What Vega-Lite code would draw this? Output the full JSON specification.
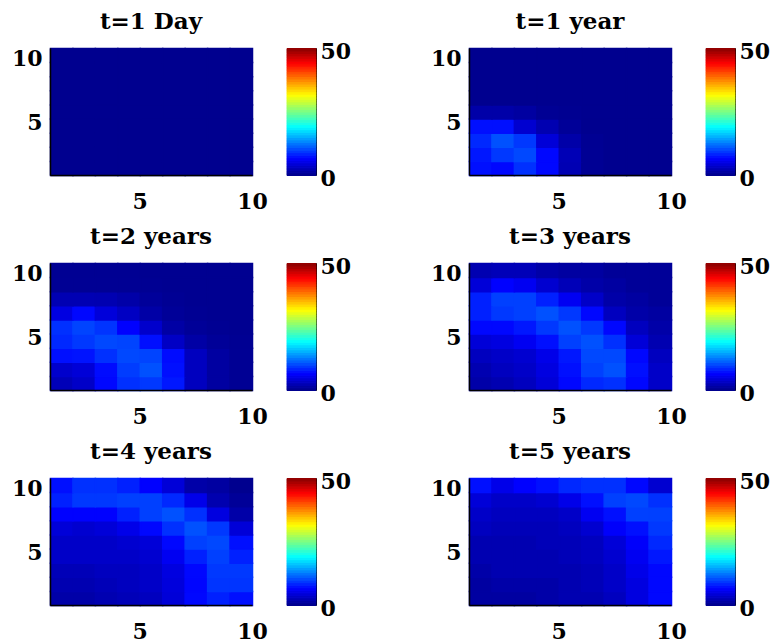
{
"$schema": "https://vega.github.io/schema/vega-lite/v6.json",
"background": "white",
"padding": {"left": 10, "top": 10, "right": 0, "bottom": 0},
"config": {
  "font": "DejaVu Serif",
  "view": {"stroke": "#c8c8e0"},
  "rect": {"binSpacing": 0},
  "title": {"font": "DejaVu Serif", "fontSize": 23, "fontWeight": "bold", "color": "black", "offset": 13},
  "axis": {"labelFont": "DejaVu Serif", "labelFontSize": 22, "labelFontWeight": "bold", "labelColor": "black", "domainColor": "black", "domainWidth": 1.5, "ticks": false, "tickSize": 0, "grid": false, "title": null, "labelFlush": false},
  "axisX": {"labelPadding": 16},
  "axisY": {"labelPadding": 8}
},
"datasets": {
"cb": [
{"c":0},{"c":1},{"c":2},{"c":3},{"c":4},{"c":5},{"c":6},{"c":7},{"c":8},{"c":9},
{"c":10},{"c":11},{"c":12},{"c":13},{"c":14},{"c":15},{"c":16},{"c":17},{"c":18},{"c":19},
{"c":20},{"c":21},{"c":22},{"c":23},{"c":24},{"c":25},{"c":26},{"c":27},{"c":28},{"c":29},
{"c":30},{"c":31},{"c":32},{"c":33},{"c":34},{"c":35},{"c":36},{"c":37},{"c":38},{"c":39},
{"c":40},{"c":41},{"c":42},{"c":43},{"c":44},{"c":45},{"c":46},{"c":47},{"c":48},{"c":49}
],
"p1": [
{"x":1,"y":1,"v":0},{"x":2,"y":1,"v":0},{"x":3,"y":1,"v":0},{"x":4,"y":1,"v":0},{"x":5,"y":1,"v":0},{"x":6,"y":1,"v":0},{"x":7,"y":1,"v":0},{"x":8,"y":1,"v":0},{"x":9,"y":1,"v":0},
{"x":1,"y":2,"v":0},{"x":2,"y":2,"v":0},{"x":3,"y":2,"v":0},{"x":4,"y":2,"v":0},{"x":5,"y":2,"v":0},{"x":6,"y":2,"v":0},{"x":7,"y":2,"v":0},{"x":8,"y":2,"v":0},{"x":9,"y":2,"v":0},
{"x":1,"y":3,"v":0},{"x":2,"y":3,"v":0},{"x":3,"y":3,"v":0},{"x":4,"y":3,"v":0},{"x":5,"y":3,"v":0},{"x":6,"y":3,"v":0},{"x":7,"y":3,"v":0},{"x":8,"y":3,"v":0},{"x":9,"y":3,"v":0},
{"x":1,"y":4,"v":0},{"x":2,"y":4,"v":0},{"x":3,"y":4,"v":0},{"x":4,"y":4,"v":0},{"x":5,"y":4,"v":0},{"x":6,"y":4,"v":0},{"x":7,"y":4,"v":0},{"x":8,"y":4,"v":0},{"x":9,"y":4,"v":0},
{"x":1,"y":5,"v":0},{"x":2,"y":5,"v":0},{"x":3,"y":5,"v":0},{"x":4,"y":5,"v":0},{"x":5,"y":5,"v":0},{"x":6,"y":5,"v":0},{"x":7,"y":5,"v":0},{"x":8,"y":5,"v":0},{"x":9,"y":5,"v":0},
{"x":1,"y":6,"v":0},{"x":2,"y":6,"v":0},{"x":3,"y":6,"v":0},{"x":4,"y":6,"v":0},{"x":5,"y":6,"v":0},{"x":6,"y":6,"v":0},{"x":7,"y":6,"v":0},{"x":8,"y":6,"v":0},{"x":9,"y":6,"v":0},
{"x":1,"y":7,"v":0},{"x":2,"y":7,"v":0},{"x":3,"y":7,"v":0},{"x":4,"y":7,"v":0},{"x":5,"y":7,"v":0},{"x":6,"y":7,"v":0},{"x":7,"y":7,"v":0},{"x":8,"y":7,"v":0},{"x":9,"y":7,"v":0},
{"x":1,"y":8,"v":0},{"x":2,"y":8,"v":0},{"x":3,"y":8,"v":0},{"x":4,"y":8,"v":0},{"x":5,"y":8,"v":0},{"x":6,"y":8,"v":0},{"x":7,"y":8,"v":0},{"x":8,"y":8,"v":0},{"x":9,"y":8,"v":0},
{"x":1,"y":9,"v":0},{"x":2,"y":9,"v":0},{"x":3,"y":9,"v":0},{"x":4,"y":9,"v":0},{"x":5,"y":9,"v":0},{"x":6,"y":9,"v":0},{"x":7,"y":9,"v":0},{"x":8,"y":9,"v":0},{"x":9,"y":9,"v":0}
],
"p2": [
{"x":1,"y":1,"v":7.0},{"x":2,"y":1,"v":6.6},{"x":3,"y":1,"v":8.6},{"x":4,"y":1,"v":6.6},{"x":5,"y":1,"v":2.0},{"x":6,"y":1,"v":0.3},{"x":7,"y":1,"v":0},{"x":8,"y":1,"v":0},{"x":9,"y":1,"v":0},
{"x":1,"y":2,"v":7.4},{"x":2,"y":2,"v":9.0},{"x":3,"y":2,"v":9.8},{"x":4,"y":2,"v":6.6},{"x":5,"y":2,"v":2.2},{"x":6,"y":2,"v":0.3},{"x":7,"y":2,"v":0},{"x":8,"y":2,"v":0},{"x":9,"y":2,"v":0},
{"x":1,"y":3,"v":8.2},{"x":2,"y":3,"v":10.2},{"x":3,"y":3,"v":9.0},{"x":4,"y":3,"v":4.1},{"x":5,"y":3,"v":1.4},{"x":6,"y":3,"v":0.2},{"x":7,"y":3,"v":0},{"x":8,"y":3,"v":0},{"x":9,"y":3,"v":0},
{"x":1,"y":4,"v":7.0},{"x":2,"y":4,"v":7.0},{"x":3,"y":4,"v":3.6},{"x":4,"y":4,"v":1.9},{"x":5,"y":4,"v":0.5},{"x":6,"y":4,"v":0},{"x":7,"y":4,"v":0},{"x":8,"y":4,"v":0},{"x":9,"y":4,"v":0},
{"x":1,"y":5,"v":1.4},{"x":2,"y":5,"v":1.4},{"x":3,"y":5,"v":1.0},{"x":4,"y":5,"v":0.3},{"x":5,"y":5,"v":0.1},{"x":6,"y":5,"v":0},{"x":7,"y":5,"v":0},{"x":8,"y":5,"v":0},{"x":9,"y":5,"v":0},
{"x":1,"y":6,"v":0},{"x":2,"y":6,"v":0},{"x":3,"y":6,"v":0},{"x":4,"y":6,"v":0},{"x":5,"y":6,"v":0},{"x":6,"y":6,"v":0},{"x":7,"y":6,"v":0},{"x":8,"y":6,"v":0},{"x":9,"y":6,"v":0},
{"x":1,"y":7,"v":0},{"x":2,"y":7,"v":0},{"x":3,"y":7,"v":0},{"x":4,"y":7,"v":0},{"x":5,"y":7,"v":0},{"x":6,"y":7,"v":0},{"x":7,"y":7,"v":0},{"x":8,"y":7,"v":0},{"x":9,"y":7,"v":0},
{"x":1,"y":8,"v":0},{"x":2,"y":8,"v":0},{"x":3,"y":8,"v":0},{"x":4,"y":8,"v":0},{"x":5,"y":8,"v":0},{"x":6,"y":8,"v":0},{"x":7,"y":8,"v":0},{"x":8,"y":8,"v":0},{"x":9,"y":8,"v":0},
{"x":1,"y":9,"v":0},{"x":2,"y":9,"v":0},{"x":3,"y":9,"v":0},{"x":4,"y":9,"v":0},{"x":5,"y":9,"v":0},{"x":6,"y":9,"v":0},{"x":7,"y":9,"v":0},{"x":8,"y":9,"v":0},{"x":9,"y":9,"v":0}
],
"p3": [
{"x":1,"y":1,"v":2.3},{"x":2,"y":1,"v":3.2},{"x":3,"y":1,"v":6.6},{"x":4,"y":1,"v":8.6},{"x":5,"y":1,"v":9.0},{"x":6,"y":1,"v":7.4},{"x":7,"y":1,"v":2.7},{"x":8,"y":1,"v":1.0},{"x":9,"y":1,"v":0.3},
{"x":1,"y":2,"v":3.4},{"x":2,"y":2,"v":4.0},{"x":3,"y":2,"v":6.8},{"x":4,"y":2,"v":9.2},{"x":5,"y":2,"v":10.2},{"x":6,"y":2,"v":7.0},{"x":7,"y":2,"v":2.7},{"x":8,"y":2,"v":1.0},{"x":9,"y":2,"v":0.3},
{"x":1,"y":3,"v":7.0},{"x":2,"y":3,"v":7.2},{"x":3,"y":3,"v":8.6},{"x":4,"y":3,"v":9.8},{"x":5,"y":3,"v":9.6},{"x":6,"y":3,"v":6.8},{"x":7,"y":3,"v":2.7},{"x":8,"y":3,"v":1.0},{"x":9,"y":3,"v":0.3},
{"x":1,"y":4,"v":8.2},{"x":2,"y":4,"v":9.0},{"x":3,"y":4,"v":9.8},{"x":4,"y":4,"v":9.6},{"x":5,"y":4,"v":7.0},{"x":6,"y":4,"v":3.0},{"x":7,"y":4,"v":1.2},{"x":8,"y":4,"v":0.5},{"x":9,"y":4,"v":0.2},
{"x":1,"y":5,"v":8.6},{"x":2,"y":5,"v":9.6},{"x":3,"y":5,"v":8.8},{"x":4,"y":5,"v":6.3},{"x":5,"y":5,"v":3.4},{"x":6,"y":5,"v":1.2},{"x":7,"y":5,"v":0.5},{"x":8,"y":5,"v":0.2},{"x":9,"y":5,"v":0.1},
{"x":1,"y":6,"v":4.6},{"x":2,"y":6,"v":6.6},{"x":3,"y":6,"v":4.2},{"x":4,"y":6,"v":2.9},{"x":5,"y":6,"v":1.3},{"x":6,"y":6,"v":0.5},{"x":7,"y":6,"v":0.2},{"x":8,"y":6,"v":0.1},{"x":9,"y":6,"v":0.1},
{"x":1,"y":7,"v":2.0},{"x":2,"y":7,"v":2.0},{"x":3,"y":7,"v":1.9},{"x":4,"y":7,"v":1.4},{"x":5,"y":7,"v":0.6},{"x":6,"y":7,"v":0.3},{"x":7,"y":7,"v":0.1},{"x":8,"y":7,"v":0.1},{"x":9,"y":7,"v":0.1},
{"x":1,"y":8,"v":0.3},{"x":2,"y":8,"v":0.3},{"x":3,"y":8,"v":0.3},{"x":4,"y":8,"v":0.3},{"x":5,"y":8,"v":0.2},{"x":6,"y":8,"v":0.1},{"x":7,"y":8,"v":0.1},{"x":8,"y":8,"v":0.1},{"x":9,"y":8,"v":0.1},
{"x":1,"y":9,"v":0.2},{"x":2,"y":9,"v":0.2},{"x":3,"y":9,"v":0.2},{"x":4,"y":9,"v":0.2},{"x":5,"y":9,"v":0.1},{"x":6,"y":9,"v":0.1},{"x":7,"y":9,"v":0.1},{"x":8,"y":9,"v":0.1},{"x":9,"y":9,"v":0.1}
],
"p4": [
{"x":1,"y":1,"v":1.4},{"x":2,"y":1,"v":1.9},{"x":3,"y":1,"v":2.7},{"x":4,"y":1,"v":4.1},{"x":5,"y":1,"v":6.6},{"x":6,"y":1,"v":8.2},{"x":7,"y":1,"v":8.6},{"x":8,"y":1,"v":6.6},{"x":9,"y":1,"v":3.2},
{"x":1,"y":2,"v":1.9},{"x":2,"y":2,"v":2.7},{"x":3,"y":2,"v":3.2},{"x":4,"y":2,"v":4.5},{"x":5,"y":2,"v":7.0},{"x":6,"y":2,"v":9.4},{"x":7,"y":2,"v":10.2},{"x":8,"y":2,"v":7.0},{"x":9,"y":2,"v":3.2},
{"x":1,"y":3,"v":2.7},{"x":2,"y":3,"v":3.2},{"x":3,"y":3,"v":3.6},{"x":4,"y":3,"v":5.0},{"x":5,"y":3,"v":7.4},{"x":6,"y":3,"v":9.8},{"x":7,"y":3,"v":9.8},{"x":8,"y":3,"v":6.6},{"x":9,"y":3,"v":2.7},
{"x":1,"y":4,"v":4.1},{"x":2,"y":4,"v":4.5},{"x":3,"y":4,"v":5.5},{"x":4,"y":4,"v":7.0},{"x":5,"y":4,"v":9.4},{"x":6,"y":4,"v":10.2},{"x":7,"y":4,"v":8.6},{"x":8,"y":4,"v":4.1},{"x":9,"y":4,"v":1.9},
{"x":1,"y":5,"v":6.6},{"x":2,"y":5,"v":6.6},{"x":3,"y":5,"v":7.4},{"x":4,"y":5,"v":9.0},{"x":5,"y":5,"v":10.2},{"x":6,"y":5,"v":9.0},{"x":7,"y":5,"v":6.6},{"x":8,"y":5,"v":2.7},{"x":9,"y":5,"v":1.4},
{"x":1,"y":6,"v":7.8},{"x":2,"y":6,"v":9.0},{"x":3,"y":6,"v":9.4},{"x":4,"y":6,"v":10.2},{"x":5,"y":6,"v":9.0},{"x":6,"y":6,"v":6.6},{"x":7,"y":6,"v":2.7},{"x":8,"y":6,"v":1.4},{"x":9,"y":6,"v":1.0},
{"x":1,"y":7,"v":7.8},{"x":2,"y":7,"v":9.4},{"x":3,"y":7,"v":9.4},{"x":4,"y":7,"v":7.8},{"x":5,"y":7,"v":5.5},{"x":6,"y":7,"v":3.2},{"x":7,"y":7,"v":1.4},{"x":8,"y":7,"v":1.0},{"x":9,"y":7,"v":0.5},
{"x":1,"y":8,"v":4.1},{"x":2,"y":8,"v":6.3},{"x":3,"y":8,"v":5.5},{"x":4,"y":8,"v":3.6},{"x":5,"y":8,"v":2.3},{"x":6,"y":8,"v":1.4},{"x":7,"y":8,"v":1.0},{"x":8,"y":8,"v":0.5},{"x":9,"y":8,"v":0.5},
{"x":1,"y":9,"v":1.9},{"x":2,"y":9,"v":2.3},{"x":3,"y":9,"v":2.3},{"x":4,"y":9,"v":1.4},{"x":5,"y":9,"v":1.0},{"x":6,"y":9,"v":1.0},{"x":7,"y":9,"v":0.5},{"x":8,"y":9,"v":0.5},{"x":9,"y":9,"v":0.5}
],
"p5": [
{"x":1,"y":1,"v":1.4},{"x":2,"y":1,"v":1.4},{"x":3,"y":1,"v":1.9},{"x":4,"y":1,"v":2.3},{"x":5,"y":1,"v":2.7},{"x":6,"y":1,"v":4.1},{"x":7,"y":1,"v":6.6},{"x":8,"y":1,"v":7.8},{"x":9,"y":1,"v":7.0},
{"x":1,"y":2,"v":1.9},{"x":2,"y":2,"v":1.9},{"x":3,"y":2,"v":2.3},{"x":4,"y":2,"v":2.7},{"x":5,"y":2,"v":3.2},{"x":6,"y":2,"v":4.3},{"x":7,"y":2,"v":6.5},{"x":8,"y":2,"v":8.8},{"x":9,"y":2,"v":8.8},
{"x":1,"y":3,"v":2.3},{"x":2,"y":3,"v":2.3},{"x":3,"y":3,"v":2.7},{"x":4,"y":3,"v":2.7},{"x":5,"y":3,"v":3.2},{"x":6,"y":3,"v":4.5},{"x":7,"y":3,"v":6.6},{"x":8,"y":3,"v":9.0},{"x":9,"y":3,"v":9.0},
{"x":1,"y":4,"v":3.2},{"x":2,"y":4,"v":3.2},{"x":3,"y":4,"v":3.2},{"x":4,"y":4,"v":3.2},{"x":5,"y":4,"v":3.6},{"x":6,"y":4,"v":5.5},{"x":7,"y":4,"v":7.8},{"x":8,"y":4,"v":9.4},{"x":9,"y":4,"v":7.8},
{"x":1,"y":5,"v":3.2},{"x":2,"y":5,"v":3.2},{"x":3,"y":5,"v":3.2},{"x":4,"y":5,"v":3.6},{"x":5,"y":5,"v":4.1},{"x":6,"y":5,"v":6.6},{"x":7,"y":5,"v":9.4},{"x":8,"y":5,"v":9.8},{"x":9,"y":5,"v":7.0},
{"x":1,"y":6,"v":4.1},{"x":2,"y":6,"v":3.6},{"x":3,"y":6,"v":4.1},{"x":4,"y":6,"v":5.0},{"x":5,"y":6,"v":6.6},{"x":6,"y":6,"v":8.6},{"x":7,"y":6,"v":10.2},{"x":8,"y":6,"v":9.0},{"x":9,"y":6,"v":4.1},
{"x":1,"y":7,"v":6.3},{"x":2,"y":7,"v":6.3},{"x":3,"y":7,"v":6.3},{"x":4,"y":7,"v":7.8},{"x":5,"y":7,"v":9.4},{"x":6,"y":7,"v":10.2},{"x":7,"y":7,"v":8.6},{"x":8,"y":7,"v":4.5},{"x":9,"y":7,"v":1.4},
{"x":1,"y":8,"v":7.8},{"x":2,"y":8,"v":9.0},{"x":3,"y":8,"v":9.0},{"x":4,"y":8,"v":9.4},{"x":5,"y":8,"v":9.4},{"x":6,"y":8,"v":8.2},{"x":7,"y":8,"v":5.0},{"x":8,"y":8,"v":1.8},{"x":9,"y":8,"v":0.5},
{"x":1,"y":9,"v":7.0},{"x":2,"y":9,"v":8.6},{"x":3,"y":9,"v":8.6},{"x":4,"y":9,"v":7.8},{"x":5,"y":9,"v":6.3},{"x":6,"y":9,"v":4.1},{"x":7,"y":9,"v":1.4},{"x":8,"y":9,"v":1.0},{"x":9,"y":9,"v":0.0}
],
"p6": [
{"x":1,"y":1,"v":1.0},{"x":2,"y":1,"v":1.0},{"x":3,"y":1,"v":1.0},{"x":4,"y":1,"v":1.4},{"x":5,"y":1,"v":1.9},{"x":6,"y":1,"v":1.9},{"x":7,"y":1,"v":2.7},{"x":8,"y":1,"v":4.5},{"x":9,"y":1,"v":6.6},
{"x":1,"y":2,"v":1.0},{"x":2,"y":2,"v":1.4},{"x":3,"y":2,"v":1.4},{"x":4,"y":2,"v":1.4},{"x":5,"y":2,"v":1.9},{"x":6,"y":2,"v":2.3},{"x":7,"y":2,"v":3.2},{"x":8,"y":2,"v":4.5},{"x":9,"y":2,"v":6.6},
{"x":1,"y":3,"v":1.4},{"x":2,"y":3,"v":1.9},{"x":3,"y":3,"v":1.9},{"x":4,"y":3,"v":1.9},{"x":5,"y":3,"v":1.9},{"x":6,"y":3,"v":2.3},{"x":7,"y":3,"v":3.2},{"x":8,"y":3,"v":5.0},{"x":9,"y":3,"v":6.6},
{"x":1,"y":4,"v":1.9},{"x":2,"y":4,"v":1.9},{"x":3,"y":4,"v":1.9},{"x":4,"y":4,"v":1.9},{"x":5,"y":4,"v":2.3},{"x":6,"y":4,"v":2.7},{"x":7,"y":4,"v":3.6},{"x":8,"y":4,"v":5.5},{"x":9,"y":4,"v":7.4},
{"x":1,"y":5,"v":1.9},{"x":2,"y":5,"v":1.9},{"x":3,"y":5,"v":1.9},{"x":4,"y":5,"v":2.3},{"x":5,"y":5,"v":2.3},{"x":6,"y":5,"v":2.7},{"x":7,"y":5,"v":4.1},{"x":8,"y":5,"v":6.0},{"x":9,"y":5,"v":8.2},
{"x":1,"y":6,"v":2.7},{"x":2,"y":6,"v":2.3},{"x":3,"y":6,"v":2.3},{"x":4,"y":6,"v":2.3},{"x":5,"y":6,"v":2.7},{"x":6,"y":6,"v":3.6},{"x":7,"y":6,"v":6.0},{"x":8,"y":6,"v":7.0},{"x":9,"y":6,"v":9.0},
{"x":1,"y":7,"v":3.2},{"x":2,"y":7,"v":2.7},{"x":3,"y":7,"v":2.7},{"x":4,"y":7,"v":2.7},{"x":5,"y":7,"v":3.2},{"x":6,"y":7,"v":5.5},{"x":7,"y":7,"v":7.0},{"x":8,"y":7,"v":9.4},{"x":9,"y":7,"v":9.4},
{"x":1,"y":8,"v":4.1},{"x":2,"y":8,"v":3.2},{"x":3,"y":8,"v":3.2},{"x":4,"y":8,"v":3.6},{"x":5,"y":8,"v":5.0},{"x":6,"y":8,"v":7.0},{"x":7,"y":8,"v":9.4},{"x":8,"y":8,"v":9.8},{"x":9,"y":8,"v":8.6},
{"x":1,"y":9,"v":7.0},{"x":2,"y":9,"v":5.0},{"x":3,"y":9,"v":6.3},{"x":4,"y":9,"v":7.0},{"x":5,"y":9,"v":8.2},{"x":6,"y":9,"v":8.6},{"x":7,"y":9,"v":8.6},{"x":8,"y":9,"v":6.6},{"x":9,"y":9,"v":3.6}
]
},
"columns": 2,
"spacing": {"row": 12, "column": 77},
"concat": [
{"hconcat": [
 {"title": "t=1 Day", "width": 202, "height": 127, "data": {"name": "p1"}, "mark": {"type": "rect", "binSpacing": 0, "strokeWidth": 1.5},
  "encoding": {
   "x": {"field": "x", "type": "quantitative", "bin": {"binned": true, "step": 1}, "scale": {"domain": [1, 10], "nice": false, "zero": false}, "axis": {"values": [5, 10]}},
   "y": {"field": "y", "type": "quantitative", "bin": {"binned": true, "step": 1}, "scale": {"domain": [1, 10], "nice": false, "zero": false}, "axis": {"values": [5, 10], "labelBaseline": {"condition": {"test": "datum.value == 10", "value": "top"}, "value": "middle"}, "labelOffset": {"condition": {"test": "datum.value == 10", "value": 0}, "value": 4}}},
   "color": {"field": "v", "type": "quantitative", "scale": {"domain": [0, 6.25, 18.75, 31.25, 43.75, 50], "range": ["#00008f", "#0000ff", "#00ffff", "#ffff00", "#ff0000", "#800000"], "interpolate": "rgb"}, "legend": null},
   "stroke": {"field": "v", "type": "quantitative", "scale": {"domain": [0, 6.25, 18.75, 31.25, 43.75, 50], "range": ["#00008f", "#0000ff", "#00ffff", "#ffff00", "#ff0000", "#800000"], "interpolate": "rgb"}, "legend": null}
  }},
 {"width": 29, "height": 127, "data": {"name": "cb"}, "view": {"stroke": "black", "strokeWidth": 1}, "mark": {"type": "rect", "binSpacing": 0, "strokeWidth": 1},
  "encoding": {
   "y": {"field": "c", "type": "quantitative", "bin": {"binned": true, "step": 1}, "scale": {"domain": [0, 50], "nice": false, "zero": false}, "axis": {"orient": "right", "values": [0, 50], "labelBaseline": "middle", "labelOffset": 3, "labelPadding": 4, "domain": false}},
   "color": {"field": "c", "type": "quantitative", "scale": {"domain": [0, 6.25, 18.75, 31.25, 43.75, 50], "range": ["#00008f", "#0000ff", "#00ffff", "#ffff00", "#ff0000", "#800000"], "interpolate": "rgb"}, "legend": null},
   "stroke": {"field": "c", "type": "quantitative", "scale": {"domain": [0, 6.25, 18.75, 31.25, 43.75, 50], "range": ["#00008f", "#0000ff", "#00ffff", "#ffff00", "#ff0000", "#800000"], "interpolate": "rgb"}, "legend": null}
  }}
 ], "spacing": 35, "bounds": "flush"},
{"hconcat": [
 {"title": "t=1 year", "width": 202, "height": 127, "data": {"name": "p2"}, "mark": {"type": "rect", "binSpacing": 0, "strokeWidth": 1.5},
  "encoding": {
   "x": {"field": "x", "type": "quantitative", "bin": {"binned": true, "step": 1}, "scale": {"domain": [1, 10], "nice": false, "zero": false}, "axis": {"values": [5, 10]}},
   "y": {"field": "y", "type": "quantitative", "bin": {"binned": true, "step": 1}, "scale": {"domain": [1, 10], "nice": false, "zero": false}, "axis": {"values": [5, 10], "labelBaseline": {"condition": {"test": "datum.value == 10", "value": "top"}, "value": "middle"}, "labelOffset": {"condition": {"test": "datum.value == 10", "value": 0}, "value": 4}}},
   "color": {"field": "v", "type": "quantitative", "scale": {"domain": [0, 6.25, 18.75, 31.25, 43.75, 50], "range": ["#00008f", "#0000ff", "#00ffff", "#ffff00", "#ff0000", "#800000"], "interpolate": "rgb"}, "legend": null},
   "stroke": {"field": "v", "type": "quantitative", "scale": {"domain": [0, 6.25, 18.75, 31.25, 43.75, 50], "range": ["#00008f", "#0000ff", "#00ffff", "#ffff00", "#ff0000", "#800000"], "interpolate": "rgb"}, "legend": null}
  }},
 {"width": 29, "height": 127, "data": {"name": "cb"}, "view": {"stroke": "black", "strokeWidth": 1}, "mark": {"type": "rect", "binSpacing": 0, "strokeWidth": 1},
  "encoding": {
   "y": {"field": "c", "type": "quantitative", "bin": {"binned": true, "step": 1}, "scale": {"domain": [0, 50], "nice": false, "zero": false}, "axis": {"orient": "right", "values": [0, 50], "labelBaseline": "middle", "labelOffset": 3, "labelPadding": 4, "domain": false}},
   "color": {"field": "c", "type": "quantitative", "scale": {"domain": [0, 6.25, 18.75, 31.25, 43.75, 50], "range": ["#00008f", "#0000ff", "#00ffff", "#ffff00", "#ff0000", "#800000"], "interpolate": "rgb"}, "legend": null},
   "stroke": {"field": "c", "type": "quantitative", "scale": {"domain": [0, 6.25, 18.75, 31.25, 43.75, 50], "range": ["#00008f", "#0000ff", "#00ffff", "#ffff00", "#ff0000", "#800000"], "interpolate": "rgb"}, "legend": null}
  }}
 ], "spacing": 35, "bounds": "flush"},
{"hconcat": [
 {"title": "t=2 years", "width": 202, "height": 127, "data": {"name": "p3"}, "mark": {"type": "rect", "binSpacing": 0, "strokeWidth": 1.5},
  "encoding": {
   "x": {"field": "x", "type": "quantitative", "bin": {"binned": true, "step": 1}, "scale": {"domain": [1, 10], "nice": false, "zero": false}, "axis": {"values": [5, 10]}},
   "y": {"field": "y", "type": "quantitative", "bin": {"binned": true, "step": 1}, "scale": {"domain": [1, 10], "nice": false, "zero": false}, "axis": {"values": [5, 10], "labelBaseline": {"condition": {"test": "datum.value == 10", "value": "top"}, "value": "middle"}, "labelOffset": {"condition": {"test": "datum.value == 10", "value": 0}, "value": 4}}},
   "color": {"field": "v", "type": "quantitative", "scale": {"domain": [0, 6.25, 18.75, 31.25, 43.75, 50], "range": ["#00008f", "#0000ff", "#00ffff", "#ffff00", "#ff0000", "#800000"], "interpolate": "rgb"}, "legend": null},
   "stroke": {"field": "v", "type": "quantitative", "scale": {"domain": [0, 6.25, 18.75, 31.25, 43.75, 50], "range": ["#00008f", "#0000ff", "#00ffff", "#ffff00", "#ff0000", "#800000"], "interpolate": "rgb"}, "legend": null}
  }},
 {"width": 29, "height": 127, "data": {"name": "cb"}, "view": {"stroke": "black", "strokeWidth": 1}, "mark": {"type": "rect", "binSpacing": 0, "strokeWidth": 1},
  "encoding": {
   "y": {"field": "c", "type": "quantitative", "bin": {"binned": true, "step": 1}, "scale": {"domain": [0, 50], "nice": false, "zero": false}, "axis": {"orient": "right", "values": [0, 50], "labelBaseline": "middle", "labelOffset": 3, "labelPadding": 4, "domain": false}},
   "color": {"field": "c", "type": "quantitative", "scale": {"domain": [0, 6.25, 18.75, 31.25, 43.75, 50], "range": ["#00008f", "#0000ff", "#00ffff", "#ffff00", "#ff0000", "#800000"], "interpolate": "rgb"}, "legend": null},
   "stroke": {"field": "c", "type": "quantitative", "scale": {"domain": [0, 6.25, 18.75, 31.25, 43.75, 50], "range": ["#00008f", "#0000ff", "#00ffff", "#ffff00", "#ff0000", "#800000"], "interpolate": "rgb"}, "legend": null}
  }}
 ], "spacing": 35, "bounds": "flush"},
{"hconcat": [
 {"title": "t=3 years", "width": 202, "height": 127, "data": {"name": "p4"}, "mark": {"type": "rect", "binSpacing": 0, "strokeWidth": 1.5},
  "encoding": {
   "x": {"field": "x", "type": "quantitative", "bin": {"binned": true, "step": 1}, "scale": {"domain": [1, 10], "nice": false, "zero": false}, "axis": {"values": [5, 10]}},
   "y": {"field": "y", "type": "quantitative", "bin": {"binned": true, "step": 1}, "scale": {"domain": [1, 10], "nice": false, "zero": false}, "axis": {"values": [5, 10], "labelBaseline": {"condition": {"test": "datum.value == 10", "value": "top"}, "value": "middle"}, "labelOffset": {"condition": {"test": "datum.value == 10", "value": 0}, "value": 4}}},
   "color": {"field": "v", "type": "quantitative", "scale": {"domain": [0, 6.25, 18.75, 31.25, 43.75, 50], "range": ["#00008f", "#0000ff", "#00ffff", "#ffff00", "#ff0000", "#800000"], "interpolate": "rgb"}, "legend": null},
   "stroke": {"field": "v", "type": "quantitative", "scale": {"domain": [0, 6.25, 18.75, 31.25, 43.75, 50], "range": ["#00008f", "#0000ff", "#00ffff", "#ffff00", "#ff0000", "#800000"], "interpolate": "rgb"}, "legend": null}
  }},
 {"width": 29, "height": 127, "data": {"name": "cb"}, "view": {"stroke": "black", "strokeWidth": 1}, "mark": {"type": "rect", "binSpacing": 0, "strokeWidth": 1},
  "encoding": {
   "y": {"field": "c", "type": "quantitative", "bin": {"binned": true, "step": 1}, "scale": {"domain": [0, 50], "nice": false, "zero": false}, "axis": {"orient": "right", "values": [0, 50], "labelBaseline": "middle", "labelOffset": 3, "labelPadding": 4, "domain": false}},
   "color": {"field": "c", "type": "quantitative", "scale": {"domain": [0, 6.25, 18.75, 31.25, 43.75, 50], "range": ["#00008f", "#0000ff", "#00ffff", "#ffff00", "#ff0000", "#800000"], "interpolate": "rgb"}, "legend": null},
   "stroke": {"field": "c", "type": "quantitative", "scale": {"domain": [0, 6.25, 18.75, 31.25, 43.75, 50], "range": ["#00008f", "#0000ff", "#00ffff", "#ffff00", "#ff0000", "#800000"], "interpolate": "rgb"}, "legend": null}
  }}
 ], "spacing": 35, "bounds": "flush"},
{"hconcat": [
 {"title": "t=4 years", "width": 202, "height": 127, "data": {"name": "p5"}, "mark": {"type": "rect", "binSpacing": 0, "strokeWidth": 1.5},
  "encoding": {
   "x": {"field": "x", "type": "quantitative", "bin": {"binned": true, "step": 1}, "scale": {"domain": [1, 10], "nice": false, "zero": false}, "axis": {"values": [5, 10]}},
   "y": {"field": "y", "type": "quantitative", "bin": {"binned": true, "step": 1}, "scale": {"domain": [1, 10], "nice": false, "zero": false}, "axis": {"values": [5, 10], "labelBaseline": {"condition": {"test": "datum.value == 10", "value": "top"}, "value": "middle"}, "labelOffset": {"condition": {"test": "datum.value == 10", "value": 0}, "value": 4}}},
   "color": {"field": "v", "type": "quantitative", "scale": {"domain": [0, 6.25, 18.75, 31.25, 43.75, 50], "range": ["#00008f", "#0000ff", "#00ffff", "#ffff00", "#ff0000", "#800000"], "interpolate": "rgb"}, "legend": null},
   "stroke": {"field": "v", "type": "quantitative", "scale": {"domain": [0, 6.25, 18.75, 31.25, 43.75, 50], "range": ["#00008f", "#0000ff", "#00ffff", "#ffff00", "#ff0000", "#800000"], "interpolate": "rgb"}, "legend": null}
  }},
 {"width": 29, "height": 127, "data": {"name": "cb"}, "view": {"stroke": "black", "strokeWidth": 1}, "mark": {"type": "rect", "binSpacing": 0, "strokeWidth": 1},
  "encoding": {
   "y": {"field": "c", "type": "quantitative", "bin": {"binned": true, "step": 1}, "scale": {"domain": [0, 50], "nice": false, "zero": false}, "axis": {"orient": "right", "values": [0, 50], "labelBaseline": "middle", "labelOffset": 3, "labelPadding": 4, "domain": false}},
   "color": {"field": "c", "type": "quantitative", "scale": {"domain": [0, 6.25, 18.75, 31.25, 43.75, 50], "range": ["#00008f", "#0000ff", "#00ffff", "#ffff00", "#ff0000", "#800000"], "interpolate": "rgb"}, "legend": null},
   "stroke": {"field": "c", "type": "quantitative", "scale": {"domain": [0, 6.25, 18.75, 31.25, 43.75, 50], "range": ["#00008f", "#0000ff", "#00ffff", "#ffff00", "#ff0000", "#800000"], "interpolate": "rgb"}, "legend": null}
  }}
 ], "spacing": 35, "bounds": "flush"},
{"hconcat": [
 {"title": "t=5 years", "width": 202, "height": 127, "data": {"name": "p6"}, "mark": {"type": "rect", "binSpacing": 0, "strokeWidth": 1.5},
  "encoding": {
   "x": {"field": "x", "type": "quantitative", "bin": {"binned": true, "step": 1}, "scale": {"domain": [1, 10], "nice": false, "zero": false}, "axis": {"values": [5, 10]}},
   "y": {"field": "y", "type": "quantitative", "bin": {"binned": true, "step": 1}, "scale": {"domain": [1, 10], "nice": false, "zero": false}, "axis": {"values": [5, 10], "labelBaseline": {"condition": {"test": "datum.value == 10", "value": "top"}, "value": "middle"}, "labelOffset": {"condition": {"test": "datum.value == 10", "value": 0}, "value": 4}}},
   "color": {"field": "v", "type": "quantitative", "scale": {"domain": [0, 6.25, 18.75, 31.25, 43.75, 50], "range": ["#00008f", "#0000ff", "#00ffff", "#ffff00", "#ff0000", "#800000"], "interpolate": "rgb"}, "legend": null},
   "stroke": {"field": "v", "type": "quantitative", "scale": {"domain": [0, 6.25, 18.75, 31.25, 43.75, 50], "range": ["#00008f", "#0000ff", "#00ffff", "#ffff00", "#ff0000", "#800000"], "interpolate": "rgb"}, "legend": null}
  }},
 {"width": 29, "height": 127, "data": {"name": "cb"}, "view": {"stroke": "black", "strokeWidth": 1}, "mark": {"type": "rect", "binSpacing": 0, "strokeWidth": 1},
  "encoding": {
   "y": {"field": "c", "type": "quantitative", "bin": {"binned": true, "step": 1}, "scale": {"domain": [0, 50], "nice": false, "zero": false}, "axis": {"orient": "right", "values": [0, 50], "labelBaseline": "middle", "labelOffset": 3, "labelPadding": 4, "domain": false}},
   "color": {"field": "c", "type": "quantitative", "scale": {"domain": [0, 6.25, 18.75, 31.25, 43.75, 50], "range": ["#00008f", "#0000ff", "#00ffff", "#ffff00", "#ff0000", "#800000"], "interpolate": "rgb"}, "legend": null},
   "stroke": {"field": "c", "type": "quantitative", "scale": {"domain": [0, 6.25, 18.75, 31.25, 43.75, 50], "range": ["#00008f", "#0000ff", "#00ffff", "#ffff00", "#ff0000", "#800000"], "interpolate": "rgb"}, "legend": null}
  }}
 ], "spacing": 35, "bounds": "flush"}
]
}
